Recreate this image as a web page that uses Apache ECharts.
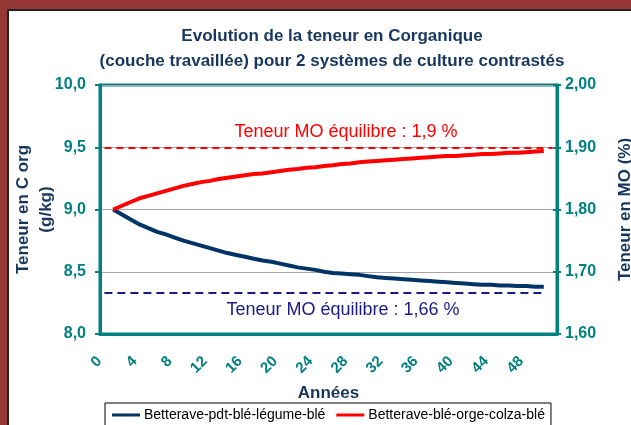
<!DOCTYPE html>
<html>
<head>
<meta charset="utf-8">
<script src="https://cdn.jsdelivr.net/npm/echarts@6/dist/echarts.min.js"></script>
<style>
html, body { margin: 0; padding: 0; background: #fff; }
#chart { width: 631px; height: 425px; }
</style>
</head>
<body>
<div id="chart"></div>
<script>
// Evolution de la teneur en C organique - 2 systemes de culture
var annees = ['0', '1', '2', '3', '4', '5', '6', '7', '8', '9', '10', '11', '12', '13', '14', '15', '16', '17',
    '18', '19', '20', '21', '22', '23', '24', '25', '26', '27', '28', '29', '30', '31', '32', '33', '34', '35',
    '36', '37', '38', '39', '40', '41', '42', '43', '44', '45', '46', '47', '48', '49', '50', '51'];

var rotationLegume = [null, 9.00, 8.96, 8.92, 8.88, 8.85, 8.82, 8.80, 8.775, 8.75, 8.73, 8.71, 8.69, 8.67,
    8.65, 8.635, 8.62, 8.605, 8.59, 8.58, 8.565, 8.55, 8.535, 8.525, 8.515, 8.50, 8.49, 8.485, 8.48, 8.475,
    8.465, 8.455, 8.45, 8.445, 8.44, 8.435, 8.43, 8.425, 8.42, 8.415, 8.41, 8.405, 8.40, 8.395, 8.395, 8.39,
    8.39, 8.385, 8.385, 8.38, 8.38, null];

var rotationColza = [null, 9.00, 9.03, 9.06, 9.09, 9.11, 9.13, 9.15, 9.17, 9.19, 9.205, 9.22, 9.23, 9.245,
    9.255, 9.265, 9.275, 9.285, 9.29, 9.30, 9.31, 9.32, 9.325, 9.335, 9.34, 9.35, 9.355, 9.365, 9.37, 9.38,
    9.385, 9.39, 9.395, 9.40, 9.405, 9.41, 9.415, 9.42, 9.425, 9.43, 9.43, 9.435, 9.44, 9.445, 9.445, 9.45,
    9.455, 9.455, 9.46, 9.465, 9.47, null];

var equilibreColza = 9.5;    // 1,9 % MO
var equilibreLegume = 8.33;  // 1,66 % MO
var texteColza = 'Teneur MO équilibre : 1,9 %';
var texteLegume = 'Teneur MO équilibre : 1,66 %';

var FONT = 'Liberation Sans, Arial, sans-serif';
var TEAL = '#008080';
var NAVY = '#17375E';

var myChart = echarts.init(document.getElementById('chart'), null, { renderer: 'canvas' });

function virgule(v, d) {
    return v.toFixed(d).replace('.', ',');
}

var option = {
    backgroundColor: '#fff',
    animation: false,
    title: {
        text: 'Evolution de la teneur en Corganique\n(couche travaillée) pour 2 systèmes de culture contrastés',
        left: 327,
        textAlign: 'center',
        top: 19,
        textStyle: { fontFamily: FONT, fontSize: 17, fontWeight: 'bold', color: NAVY, lineHeight: 25 }
    },
    legend: {
        data: ['Betterave-pdt-blé-légume-blé', 'Betterave-blé-orge-colza-blé'],
        left: 105,
        top: 403,
        padding: [5, 6, 8, 7],
        itemGap: 11,
        itemWidth: 28,
        itemHeight: 3,
        icon: 'rect',
        borderColor: '#000',
        borderWidth: 1,
        borderRadius: 0,
        textStyle: { fontFamily: FONT, fontSize: 14, color: '#000', padding: [0, 0, 0, -1] }
    },
    grid: {
        left: 100, right: 74, top: 85, bottom: 91,
        outerBoundsMode: 'none',
        containLabel: false,
        show: true, borderColor: TEAL, borderWidth: 3, backgroundColor: '#fff'
    },
    xAxis: [
        {
            type: 'category',
            data: annees,
            boundaryGap: true,
            name: 'Années',
            nameLocation: 'middle',
            nameGap: 51,
            nameMoveOverlap: false,
            nameTextStyle: { fontFamily: FONT, fontSize: 17, fontWeight: 'bold', color: NAVY },
            axisLine: { lineStyle: { color: TEAL, width: 3 } },
            axisTick: { interval: 1, length: 6, lineStyle: { color: TEAL, width: 2 } },
            axisLabel: {
                interval: 3, rotate: 45, margin: 20, padding: [0, 7, 0, 0],
                fontFamily: FONT, fontSize: 15, fontWeight: 'bold', color: TEAL
            },
            splitLine: { show: false }
        },
        {
            // ticks a l'interieur
            type: 'category',
            data: annees,
            position: 'bottom',
            axisLine: { show: false },
            axisTick: { inside: true, interval: 1, length: 4, lineStyle: { color: TEAL, width: 2 } },
            axisLabel: { show: false },
            splitLine: { show: false }
        }
    ],
    yAxis: [
        {
            type: 'value',
            min: 8, max: 10, interval: 0.5,
            position: 'left',
            name: 'Teneur en C org\n(g/kg)',
            nameLocation: 'middle',
            nameRotate: 90,
            nameGap: 42,
            nameMoveOverlap: false,
            nameTextStyle: { fontFamily: FONT, fontSize: 17, fontWeight: 'bold', color: NAVY, lineHeight: 23, align: 'center' },
            axisLine: { show: true, lineStyle: { color: TEAL, width: 3 } },
            axisTick: { show: true, length: 5, lineStyle: { color: TEAL, width: 2 } },
            axisLabel: {
                margin: 14, fontFamily: FONT, fontSize: 16, fontWeight: 'bold', color: TEAL,
                formatter: function (v) { return virgule(v, 1); }
            },
            splitLine: { show: true, lineStyle: { color: '#a6a6a6', width: 1 } }
        },
        {
            type: 'value',
            min: 1.6, max: 2.0, interval: 0.1,
            position: 'right',
            name: 'Teneur en MO (%)',
            nameLocation: 'middle',
            nameRotate: 90,
            nameGap: 60,
            nameTextStyle: { fontFamily: FONT, fontSize: 17, fontWeight: 'bold', color: NAVY },
            axisLine: { show: true, lineStyle: { color: TEAL, width: 3 } },
            axisTick: { show: true, length: 4, lineStyle: { color: TEAL, width: 2 } },
            axisLabel: {
                margin: 8, fontFamily: FONT, fontSize: 16, fontWeight: 'bold', color: TEAL,
                formatter: function (v) { return virgule(v, 2); }
            },
            splitLine: { show: false }
        },
        {
            // ticks a l'interieur de l'axe droit
            type: 'value',
            min: 1.6, max: 2.0, interval: 0.1,
            position: 'right',
            axisLine: { show: false },
            axisTick: { show: true, inside: true, length: 4, lineStyle: { color: TEAL, width: 2 } },
            axisLabel: { show: false },
            splitLine: { show: false }
        }
    ],
    series: [
        {
            name: 'Betterave-pdt-blé-légume-blé',
            type: 'line',
            data: rotationLegume,
            color: '#003366',
            showSymbol: false,
            lineStyle: { width: 4, color: '#003366' },
            markLine: {
                silent: true,
                symbol: 'none',
                label: { show: false },
                lineStyle: { type: [8, 5], width: 2, color: '#1a1a85' },
                data: [[{ coord: [0, equilibreLegume] }, { coord: [50, equilibreLegume] }]]
            }
        },
        {
            name: 'Betterave-blé-orge-colza-blé',
            type: 'line',
            data: rotationColza,
            color: '#ff0000',
            showSymbol: false,
            lineStyle: { width: 4, color: '#ff0000' },
            markLine: {
                silent: true,
                symbol: 'none',
                label: { show: false },
                lineStyle: { type: [7, 5], width: 2, color: '#ff0000' },
                data: [[{ coord: [0, equilibreColza] }, { coord: [51, equilibreColza] }]]
            }
        }
    ]
};
myChart.setOption(option);

// cadre et textes d'equilibre
var yColza = myChart.convertToPixel({ yAxisIndex: 0 }, equilibreColza);
var yLegume = myChart.convertToPixel({ yAxisIndex: 0 }, equilibreLegume);
myChart.setOption({
    graphic: [
        { type: 'rect', shape: { x: 0, y: 0, width: 631, height: 9 }, style: { fill: '#953735' } },
        { type: 'rect', shape: { x: 0, y: 0, width: 7, height: 425 }, style: { fill: '#953735' } },
        { type: 'rect', shape: { x: 7, y: 9, width: 624, height: 2 }, style: { fill: '#222' } },
        { type: 'rect', shape: { x: 7, y: 9, width: 2, height: 416 }, style: { fill: '#222' } },
        {
            type: 'text', x: 346, y: yColza - 15,
            style: { text: texteColza, fill: '#ff0000', font: '18px ' + FONT, textAlign: 'center', textVerticalAlign: 'middle' }
        },
        {
            type: 'text', x: 343, y: yLegume + 17,
            style: { text: texteLegume, fill: '#1a1a85', font: '18px ' + FONT, textAlign: 'center', textVerticalAlign: 'middle' }
        }
    ]
});
</script>
</body>
</html>
